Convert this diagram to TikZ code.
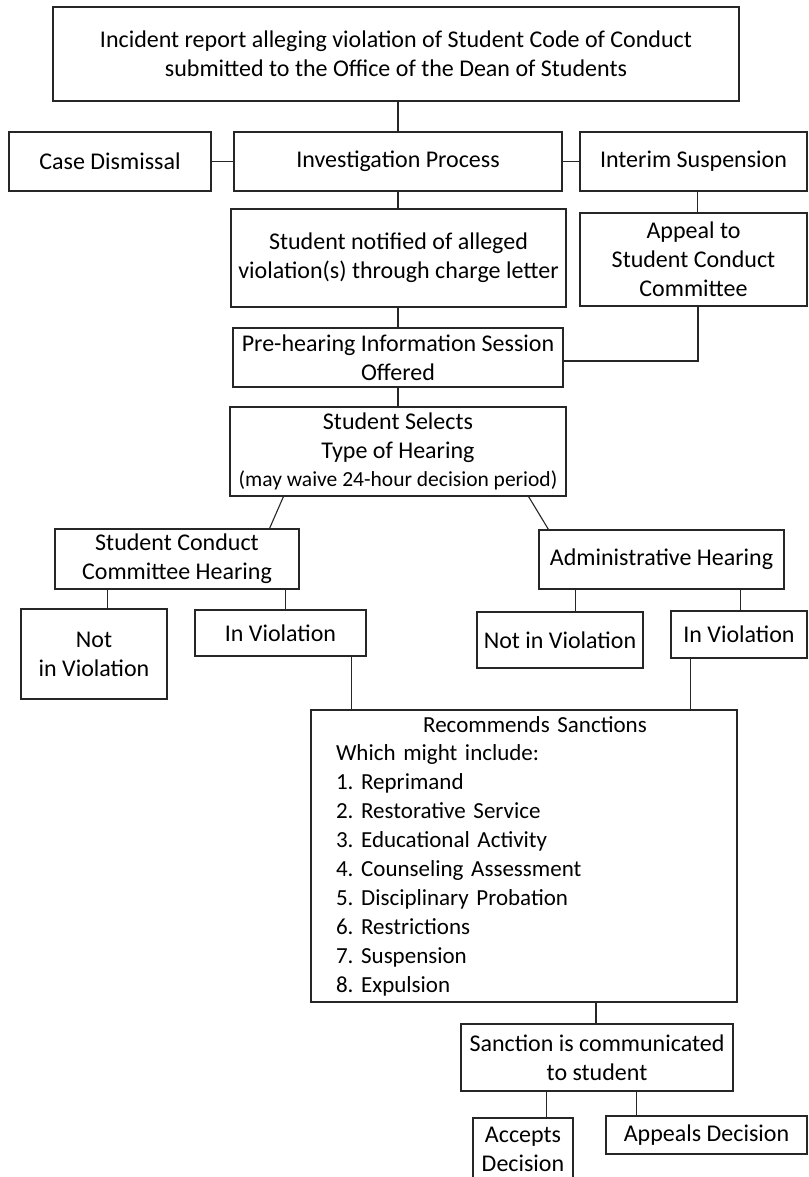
\documentclass[tikz,border=0pt]{standalone}
\usepackage{fontspec}
\setmainfont{Carlito}
\usetikzlibrary{calc}
\begin{document}
\begin{tikzpicture}[x=1pt,y=-1pt,
  box/.style={draw=black!85, line width=1.1pt, inner sep=0pt, align=center,
    font=\fontsize{24}{28.8}\selectfont},
  link/.style={draw=black!85, line width=1.1pt}]
\useasboundingbox (0,0) rectangle (808,1177);
\clip (0,0) rectangle (808,1177);
\fill[white] (0,0) rectangle (808,1177);

\node[box, minimum width=686pt, minimum height=94pt] (top) at (396,54)
  {Incident report alleging violation of Student Code of Conduct\\submitted to the Office of the Dean of Students};
\node[box, minimum width=202pt, minimum height=59pt] (dismiss) at (110,161.5) {Case Dismissal};
\node[box, minimum width=328pt, minimum height=59pt] (invest) at (398,161.5) {Investigation Process};
\node[box, minimum width=227pt, minimum height=59pt] (interim) at (693.5,161.5) {Interim Suspension};
\node[box, minimum width=335pt, minimum height=98pt] (notified) at (398.5,258)
  {Student notified of alleged\\violation(s) through charge letter};
\node[box, minimum width=227pt, minimum height=93pt] (appeal) at (693.5,259.5)
  {Appeal to\\Student Conduct\\Committee};
\node[box, minimum width=330pt, minimum height=59pt] (prehear) at (398,357.5)
  {Pre-hearing Information Session\\Offered};
\node[box, minimum width=336pt, minimum height=89pt] (selects) at (398,451.5)
  {Student Selects\\Type of Hearing\\{\fontsize{21.5}{24}\selectfont (may waive 24-hour decision period)}};
\node[box, minimum width=244pt, minimum height=60pt] (scc) at (177,559)
  {Student Conduct\\Committee Hearing};
\node[box, minimum width=245pt, minimum height=59pt] (admin) at (661.5,559.5) {Administrative Hearing};
\node[box, minimum width=146pt, minimum height=90pt] (notL) at (94,654) {Not\\in Violation};
\node[box, minimum width=171pt, minimum height=46pt] (inL) at (280.5,633) {In Violation};
\node[box, minimum width=166pt, minimum height=56pt] (notR) at (560,640) {Not in Violation};
\node[box, minimum width=136pt, minimum height=47pt] (inR) at (739,634.5) {In Violation};
\node[box, minimum width=426pt, minimum height=292pt, text width=376pt, align=left,
      font=\fontsize{23}{28.9}\selectfont\frenchspacing] (sanc) at (524,856)
  {\makebox[376pt][c]{\hspace*{22pt}Recommends Sanctions}\\
   Which might include:\\
   1. Reprimand\\
   2. Restorative Service\\
   3. Educational Activity\\
   4. Counseling Assessment\\
   5. Disciplinary Probation\\
   6. Restrictions\\
   7. Suspension\\
   8. Expulsion};
\node[box, minimum width=272pt, minimum height=67pt] (comm) at (597,1057.5)
  {Sanction is communicated\\to student};
\node[box, minimum width=100pt, minimum height=62pt] (accepts) at (523,1149) {Accepts\\Decision};
\node[box, minimum width=201pt, minimum height=38pt] (appeals) at (706.5,1135) {Appeals Decision};

% connectors
\draw[link] (invest.north) -- (invest.north |- top.south);
\draw[link] (dismiss.east) -- (invest.west);
\draw[link] (invest.east) -- (interim.west);
\draw[link] (invest.south) -- (invest.south |- notified.north);
\draw[link] ([xshift=4pt]interim.south) -- ([xshift=4pt]appeal.north);
\draw[link] (notified.south -| prehear.north) -- (prehear.north);
\draw[link] ([xshift=4.5pt]appeal.south) |- ([yshift=-3.5pt]prehear.east);
\draw[link] (prehear.south) -- (selects.north);
\draw[link] ([xshift=54pt]selects.south west) -- ([xshift=-30pt]scc.north east);
\draw[link] ([xshift=-38pt]selects.south east) -- ([xshift=10pt]admin.north west);
\coordinate (sccL) at ([xshift=53pt]scc.south west);
\coordinate (sccR) at ([xshift=-14pt]scc.south east);
\draw[link] (sccL) -- (sccL |- notL.north);
\draw[link] (sccR) -- (sccR |- inL.north);
\coordinate (admL) at ([xshift=37pt]admin.south west);
\coordinate (admR) at ([xshift=-44pt]admin.south east);
\draw[link] (admL) -- (admL |- notR.north);
\draw[link] (admR) -- (admR |- inR.north);
\coordinate (inLs) at ([xshift=-15pt]inL.south east);
\coordinate (inRs) at ([xshift=20pt]inR.south west);
\draw[link] (inLs) -- (inLs |- sanc.north);
\draw[link] (inRs) -- (inRs |- sanc.north);
\draw[link] ([xshift=-1pt]comm.north) -- ([xshift=-1pt]comm.north |- sanc.south);
\coordinate (comA) at ([xshift=86pt]comm.south west);
\coordinate (comB) at ([xshift=176pt]comm.south west);
\draw[link] (comA) -- (comA |- accepts.north);
\draw[link] (comB) -- (comB |- appeals.north);
\end{tikzpicture}
\end{document}
